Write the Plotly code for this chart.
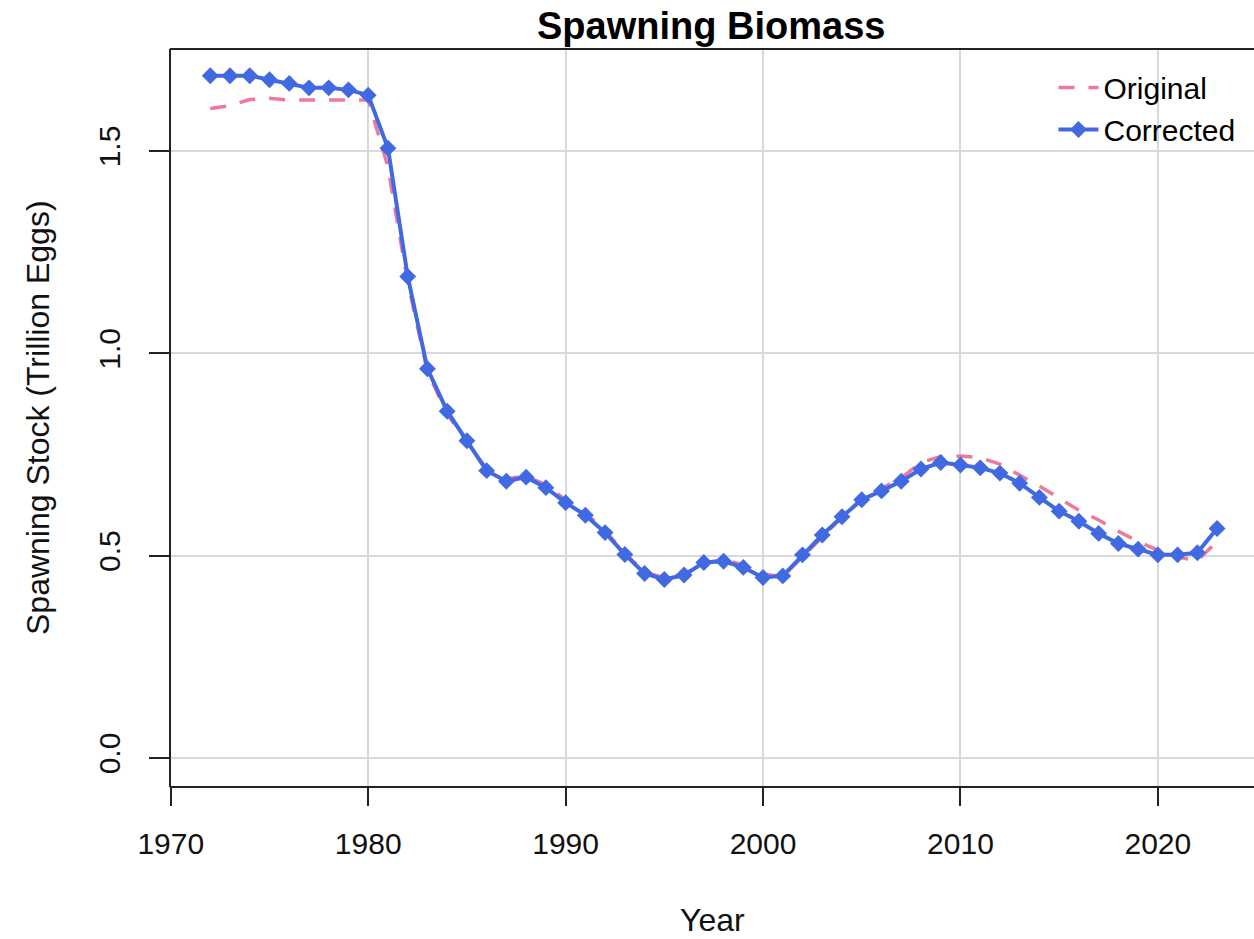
import plotly.graph_objects as go

years = [1972, 1973, 1974, 1975, 1976, 1977, 1978, 1979, 1980, 1981,
         1982, 1983, 1984, 1985, 1986, 1987, 1988, 1989, 1990, 1991,
         1992, 1993, 1994, 1995, 1996, 1997, 1998, 1999, 2000, 2001,
         2002, 2003, 2004, 2005, 2006, 2007, 2008, 2009, 2010, 2011,
         2012, 2013, 2014, 2015, 2016, 2017, 2018, 2019, 2020, 2021,
         2022, 2023]

original = [1.605, 1.612, 1.627, 1.630, 1.626, 1.626, 1.626, 1.626, 1.626, 1.460,
            1.175, 0.955, 0.850, 0.780, 0.715, 0.690, 0.697, 0.675, 0.638, 0.605,
            0.562, 0.505, 0.460, 0.445, 0.455, 0.482, 0.490, 0.478, 0.455, 0.448,
            0.498, 0.548, 0.595, 0.640, 0.667, 0.692, 0.730, 0.745, 0.746, 0.742,
            0.726, 0.700, 0.672, 0.642, 0.612, 0.588, 0.560, 0.535, 0.513, 0.497,
            0.487, 0.535]

corrected = [1.686, 1.686, 1.686, 1.676, 1.667, 1.656, 1.656, 1.651, 1.638, 1.507,
             1.190, 0.962, 0.857, 0.784, 0.710, 0.684, 0.694, 0.668, 0.631, 0.600,
             0.557, 0.503, 0.456, 0.441, 0.452, 0.483, 0.486, 0.471, 0.446, 0.450,
             0.502, 0.551, 0.596, 0.638, 0.660, 0.684, 0.714, 0.730, 0.724, 0.717,
             0.704, 0.679, 0.644, 0.610, 0.585, 0.555, 0.530, 0.516, 0.502, 0.502,
             0.507, 0.567]

x_ticks = [1970, 1980, 1990, 2000, 2010, 2020]
y_ticks = [0.0, 0.5, 1.0, 1.5]
y_tick_text = ["0.0", "0.5", "1.0", "1.5"]

FONT = "Liberation Sans, Arial, sans-serif"
PINK = "#EE799F"
BLUE = "#4169E1"
GRID = "#D9D9D9"

fig = go.Figure()
fig.add_trace(go.Scatter(
    x=years, y=original, mode="lines", name="Original",
    line=dict(color=PINK, width=3.5, dash="16px,14px"),
))
fig.add_trace(go.Scatter(
    x=years, y=corrected, mode="lines+markers", name="Corrected",
    line=dict(color=BLUE, width=4),
    marker=dict(symbol="diamond", size=13, color=BLUE),
))

fig.update_layout(
    width=1254, height=939,
    margin=dict(l=170, r=0, t=49, b=152),
    paper_bgcolor="white", plot_bgcolor="white",
    font=dict(family=FONT, size=30, color="black"),
    showlegend=True,
    legend=dict(
        x=0.815, y=0.983, xanchor="left", yanchor="top",
        bgcolor="rgba(0,0,0,0)", borderwidth=0,
        font=dict(family=FONT, size=30, color="black"),
        itemwidth=40, tracegroupgap=0,
    ),
    xaxis=dict(
        range=[1969.96, 2024.87],
        tickvals=x_ticks,
        ticktext=[str(v) for v in x_ticks],
        showgrid=True, gridcolor=GRID, gridwidth=1.5,
        zeroline=False, showline=False,
        ticks="outside", ticklen=18, tickwidth=1.5, tickcolor="#222222",
        tickfont=dict(family=FONT, size=30, color="#111111"),
        ticklabelstandoff=12,
    ),
    yaxis=dict(
        range=[-0.0717, 1.752],
        tickvals=y_ticks,
        ticktext=y_tick_text,
        tickangle=-90,
        showgrid=True, gridcolor=GRID, gridwidth=1.5,
        zeroline=False, showline=False,
        ticks="outside", ticklen=20, tickwidth=1.5, tickcolor="#222222",
        tickfont=dict(family=FONT, size=30, color="#111111"),
        ticklabelstandoff=17,
    ),
    shapes=[
        dict(type="line", xref="paper", yref="paper", x0=0, x1=1, y0=1, y1=1,
             line=dict(color="#222222", width=2)),
        dict(type="line", xref="paper", yref="paper", x0=0, x1=0, y0=0, y1=1,
             line=dict(color="#222222", width=2)),
        dict(type="line", xref="paper", yref="paper", x0=0, x1=1, y0=0, y1=0,
             line=dict(color="#222222", width=2)),
    ],
    annotations=[
        dict(text="<b>Spawning Biomass</b>", xref="paper", yref="paper",
             x=(711 - 170) / 1084, y=(787 - 26) / 738, xanchor="center", yanchor="middle",
             showarrow=False, font=dict(family=FONT, size=38, color="black")),
        dict(text="Year", xref="paper", yref="paper",
             x=(712 - 170) / 1084, y=(787 - 920) / 738,
             xanchor="center", yanchor="middle",
             showarrow=False, font=dict(family=FONT, size=32, color="#111111")),
        dict(text="Spawning Stock (Trillion Eggs)", xref="paper", yref="paper",
             x=(38 - 170) / 1084, y=(787 - 418) / 738,
             xanchor="center", yanchor="middle", textangle=-90,
             showarrow=False, font=dict(family=FONT, size=32, color="#111111")),
    ],
)

fig.write_html("out.html", config={"displayModeBar": False},
               post_script="document.body.style.margin='0';")
